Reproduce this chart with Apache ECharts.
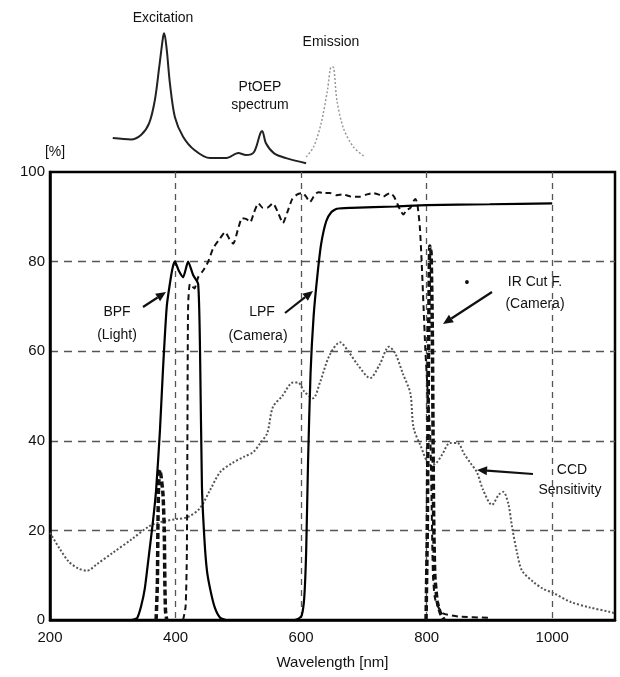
<!DOCTYPE html>
<html>
<head>
<meta charset="utf-8">
<script src="https://cdn.jsdelivr.net/npm/echarts@6/dist/echarts.min.js"></script>
<style>
  html, body { margin: 0; padding: 0; background: #fff; }
  #chart { width: 620px; height: 677px; }
</style>
</head>
<body>
<div id="chart"></div>
<script>
// wavelength [nm] / transmission [%]
var bpfWl  = [330, 339, 345, 351, 358, 364, 369, 375, 380, 386, 392, 396, 399, 405, 412, 420, 428, 436, 439, 442, 446, 450, 455, 462, 471, 480];
var bpfVal = [0, 0.5, 3, 7, 15, 22, 29, 42, 56, 70, 76, 79, 80, 78, 76.5, 80, 77, 75, 60, 30, 18, 11, 7, 3, 0.5, 0];

var ledWl  = [369, 371, 372, 373, 375, 377, 380, 382, 383, 384, 386];
var ledVal = [0, 8, 22, 30, 33.5, 32, 28, 20, 8, 2, 0];

var lpfWl  = [590, 596, 601, 605, 608, 611, 615, 620, 626, 632, 640, 648, 657, 680, 750, 800, 900, 1000];
var lpfVal = [0, 0.3, 1, 5, 15, 35, 55, 68, 77, 84, 89, 91, 91.8, 92, 92.3, 92.6, 92.8, 93];

var irWl  = [412, 416, 418, 419, 420, 423, 430, 436, 444, 452, 460, 470, 479, 486, 492, 499, 506, 513, 519, 525, 532, 539, 546, 555, 563, 571, 578, 586, 594, 602, 608, 614, 620, 627, 636, 646, 657, 667, 680, 694, 705, 715, 723, 731, 737, 742, 748, 753, 758, 763, 768, 774, 779, 782, 785, 789, 792, 795, 798, 802, 806, 808, 810, 813, 818, 826, 850, 900];
var irVal = [0, 3, 15, 45, 70, 75, 74, 76.5, 78, 80, 83, 85, 86.6, 85, 84, 87, 89.7, 89.5, 88.8, 91, 93, 92, 92, 93, 91, 88.6, 91, 94, 95, 95.3, 94.5, 93.3, 94.5, 95.5, 95.3, 95.3, 94.8, 95, 94.5, 94.5, 95, 95.3, 95, 94.5, 95, 95.3, 94.5, 93, 91.5, 90.5, 91.5, 92, 93.5, 94, 93, 88, 80, 70, 60, 50, 40, 25, 10, 5, 3, 1.5, 0.8, 0.5];

var irBandWl  = [799, 801, 803, 805, 807, 809, 810, 811, 813, 817, 822, 828];
var irBandVal = [0, 20, 60, 83.5, 82, 65, 45, 25, 10, 4, 1.5, 0];

var ccdWl  = [200, 215, 230, 245, 259, 275, 300, 330, 359, 380, 400, 420, 439, 455, 471, 490, 510, 524, 535, 546, 555, 570, 587, 595, 605, 619, 630, 645, 662, 675, 690, 710, 725, 740, 750, 762, 774, 779, 790, 806, 815, 825, 837, 849, 860, 870, 880, 890, 904, 915, 922, 930, 936, 944, 952, 970, 985, 1002, 1030, 1060, 1092, 1100];
var ccdVal = [19.5, 16, 13, 11.5, 11, 12.5, 15, 18, 21, 22, 22.5, 23, 25, 29, 33, 35, 36.5, 37.5, 39.5, 41.7, 47.5, 50, 53, 53, 51, 49.5, 53, 59, 62, 60, 57, 54, 57, 61, 59.5, 55, 50.6, 43, 39, 34.6, 35, 37, 39.5, 39.5, 37, 35, 33, 29, 25.7, 28, 28.6, 26, 20.8, 15, 11, 8.5, 7, 6, 4, 2.8, 1.8, 1.5];

// PtOEP spectrum inset (relative intensity)
var excWl  = [300, 329, 345, 358, 367, 374, 380, 382, 386, 391, 399, 412, 430, 455, 481, 500, 512, 525, 535, 538, 544, 557, 576, 608];
var excVal = [18.8, 18, 20.6, 27.6, 41, 60.6, 78, 80.4, 70.6, 51, 31, 19.6, 11.8, 7, 7, 10, 8.8, 10.6, 21.6, 23, 15.7, 9.8, 7, 4];
var emiWl  = [608, 620, 632, 642, 648, 651, 657, 667, 683, 702];
var emiVal = [7.6, 13.7, 27.6, 47, 60.6, 60.6, 41, 25, 13.7, 7.6];

var xTicks = [200, 400, 600, 800, 1000];
var yTicks = [0, 20, 40, 60, 80, 100];

function zip(a, b) { return a.map(function (v, i) { return [v, b[i]]; }); }

var FONT = "'Liberation Sans Narrow', 'Liberation Sans', Arial, sans-serif";

function arrow(x1, y1, x2, y2) {
    var ang = Math.atan2(y2 - y1, x2 - x1);
    var L = 10, W = 4.5;
    var bx = x2 - L * Math.cos(ang), by = y2 - L * Math.sin(ang);
    var px = -Math.sin(ang) * W, py = Math.cos(ang) * W;
    return [
        { type: 'line', shape: { x1: x1, y1: y1, x2: bx, y2: by }, style: { stroke: '#111', lineWidth: 2.2 } },
        { type: 'polygon', shape: { points: [[x2, y2], [bx + px, by + py], [bx - px, by - py]] }, style: { fill: '#111' } }
    ];
}

function label(txt, x, y, size) {
    return {
        type: 'text', x: x, y: y,
        style: { text: txt, fill: '#111', font: (size || 14) + 'px ' + FONT, align: 'center', verticalAlign: 'middle' }
    };
}

var chart = echarts.init(document.getElementById('chart'));

var graphics = [
    label('[%]', 55, 152, 14),
    label('Excitation', 163, 18),
    label('PtOEP', 260, 87),
    label('spectrum', 260, 105),
    label('Emission', 331, 42),
    label('BPF', 117, 312),
    label('(Light)', 117, 335),
    label('LPF', 262, 312),
    label('(Camera)', 258, 336),
    label('IR Cut F.', 535, 282),
    label('(Camera)', 535, 304),
    label('•', 467, 283, 14),
    label('CCD', 572, 470),
    label('Sensitivity', 570, 490)
].concat(arrow(143, 307, 166, 292))
 .concat(arrow(285, 313, 313, 291))
 .concat(arrow(492, 292, 443, 324))
 .concat(arrow(533, 474, 477, 470));

var option = {
    backgroundColor: '#fff',
    animation: false,
    grid: [
        { left: 50, right: 5, top: 172, bottom: 57, show: true, borderColor: '#000', borderWidth: 2.5 },
        { left: 50, right: 5, top: 0, height: 170 }
    ],
    xAxis: [
        {
            type: 'value', gridIndex: 0, min: 200, max: 1100, interval: 200,
            name: 'Wavelength [nm]', nameLocation: 'middle', nameGap: 35,
            nameTextStyle: { fontSize: 15, color: '#111', fontFamily: FONT },
            axisLine: { lineStyle: { color: '#000', width: 2.5 } },
            axisTick: { show: false },
            axisLabel: {
                fontSize: 15, color: '#111', fontFamily: FONT, margin: 10,
                formatter: function (v) { return xTicks.indexOf(v) >= 0 ? String(v) : ''; }
            },
            splitLine: { show: true, showMinLine: false, showMaxLine: false, lineStyle: { color: '#555', width: 1.3, type: [6, 5] } }
        },
        { type: 'value', gridIndex: 1, min: 200, max: 1100, show: false }
    ],
    yAxis: [
        {
            type: 'value', gridIndex: 0, min: 0, max: 100, interval: 20,
            axisLine: { lineStyle: { color: '#000', width: 2.5 } },
            axisTick: { show: false },
            axisLabel: {
                fontSize: 15, color: '#111', fontFamily: FONT, margin: 5,
                formatter: function (v) { return yTicks.indexOf(v) >= 0 ? String(v) : ''; }
            },
            splitLine: { show: true, showMinLine: false, showMaxLine: false, lineStyle: { color: '#555', width: 1.3, type: [8, 6] } }
        },
        { type: 'value', gridIndex: 1, min: 0, max: 100, show: false }
    ],
    series: [
        {
            name: 'CCD Sensitivity', type: 'line', data: zip(ccdWl, ccdVal), showSymbol: false, smooth: 0.3,
            lineStyle: { color: '#555', width: 2, type: [2, 2] }
        },
        {
            name: 'IR Cut F.', type: 'line', data: zip(irWl, irVal), showSymbol: false, smooth: 0.2,
            lineStyle: { color: '#111', width: 2, type: [6, 4] }
        },
        {
            name: 'IR band', type: 'line', data: zip(irBandWl, irBandVal), showSymbol: false, smooth: 0.2,
            lineStyle: { color: '#111', width: 3.5, type: [6, 3] }
        },
        {
            name: 'LED band', type: 'line', data: zip(ledWl, ledVal), showSymbol: false, smooth: 0.2,
            lineStyle: { color: '#111', width: 3.5, type: [6, 3] }
        },
        {
            name: 'BPF', type: 'line', data: zip(bpfWl, bpfVal), showSymbol: false, smooth: 0.2,
            lineStyle: { color: '#000', width: 2.2 }
        },
        {
            name: 'LPF', type: 'line', data: zip(lpfWl, lpfVal), showSymbol: false, smooth: 0.2,
            lineStyle: { color: '#000', width: 2.2 }
        },
        {
            name: 'Excitation', type: 'line', xAxisIndex: 1, yAxisIndex: 1, data: zip(excWl, excVal),
            showSymbol: false, smooth: 0.3, lineStyle: { color: '#222', width: 2 }
        },
        {
            name: 'Emission', type: 'line', xAxisIndex: 1, yAxisIndex: 1, data: zip(emiWl, emiVal),
            showSymbol: false, smooth: 0.3, lineStyle: { color: '#999', width: 1.5, type: [2, 2] }
        }
    ],
    graphic: graphics
};

chart.setOption(option);
</script>
</body>
</html>
